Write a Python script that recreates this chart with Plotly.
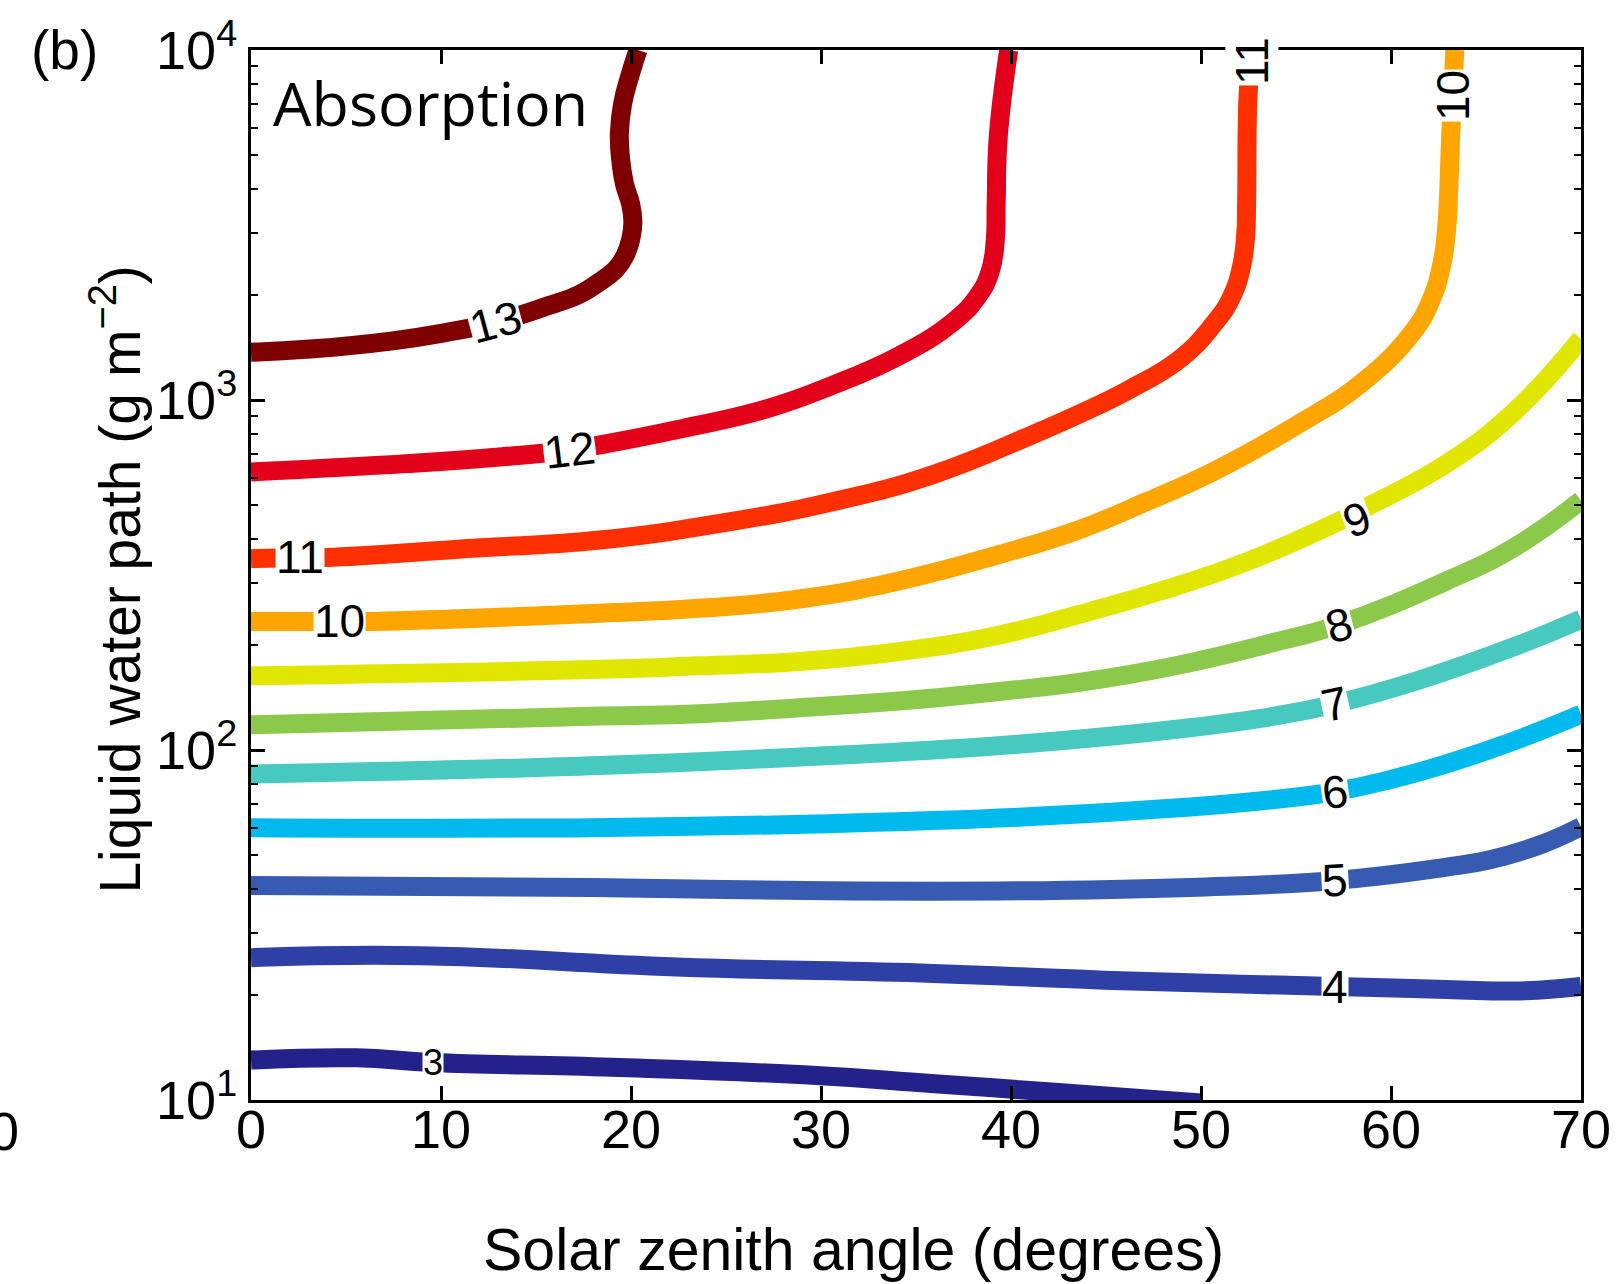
import math
import plotly.graph_objects as go

# ---- contour lines of absorption (%) : solar zenith angle vs liquid water path ----
levels = [13, 12, 11, 10, 9, 8, 7, 6, 5, 4, 3]

c13_x = [0, 3.1, 7.46, 10.24, 12.86, 15.63, 17.27, 18.25, 19.18, 19.67, 19.99, 20.10, 19.99, 19.66, 19.45, 19.39, 19.56, 19.94, 20.37]
c13_y = [1369, 1398, 1476, 1558, 1667, 1858, 2002, 2158, 2357, 2574, 2888, 3220, 3614, 4140, 4905, 5810, 7027, 8439, 10000]

c12_x = [0, 8.17, 12.91, 16.78, 18.36, 22.72, 27.13, 30.61, 34.16, 36.93, 38.24, 38.90, 39.17, 39.22, 39.33, 39.88]
c12_y = [623, 658, 686, 719, 744, 829, 943, 1102, 1342, 1667, 1975, 2325, 2850, 3663, 5655, 10000]

c11_x = [0, 2.56, 3.98, 11.66, 18.36, 25.33, 30.61, 35.84, 41.13, 43.58, 46.25, 48.86, 50.61, 51.59, 52.13, 52.35, 52.40, 52.46, 52.62]
c11_y = [352, 355, 355, 377, 398, 450, 512, 611, 796, 911, 1073, 1306, 1634, 1962, 2405, 2948, 3663, 7027, 10000]

c10_x = [0, 4.63, 6.43, 18.36, 23.59, 28.87, 34.10, 39.39, 43.58, 47.12, 50.61, 55.02, 58.51, 61.12, 62.05, 62.65, 62.92, 63.03, 63.14, 63.36]
c10_y = [233, 233, 233, 246, 254, 270, 304, 362, 426, 512, 623, 846, 1125, 1558, 1897, 2405, 3050, 3868, 5655, 10000]

c9_x = [0, 18.36, 23.59, 28.87, 34.10, 39.39, 43.58, 47.99, 52.40, 57.25, 58.51, 62.92, 66.41, 70]
c9_y = [163, 170, 174, 179, 191, 213, 244, 286, 345, 450, 488, 658, 918, 1496]

c8_x = [0, 18.36, 23.59, 28.87, 34.10, 39.39, 43.58, 48.86, 54.15, 57.25, 62.92, 66.41, 70]
c8_y = [118, 125, 127, 132, 138, 147, 156, 175, 205, 228, 304, 377, 516]

c7_x = [0, 17.92, 30.38, 40.37, 49.41, 54.15, 57.04, 61.12, 66.41, 70]
c7_y = [85.4, 90.1, 96.4, 103.9, 115.8, 125.7, 135.4, 156.1, 196.7, 236.3]

c6_x = [0, 17.92, 30.38, 40.37, 49.41, 53.22, 57.04, 60.03, 62.92, 66.30, 70]
c6_y = [60.0, 60.0, 61.6, 64.2, 68.7, 71.6, 76.0, 82.5, 91.3, 105.3, 126.5]

c5_x = [0, 17.92, 30.38, 40.37, 49.41, 57.04, 62.92, 65.21, 67.93, 70]
c5_y = [41.0, 40.5, 39.6, 39.6, 40.5, 42.4, 46.3, 48.6, 53.8, 60.4]

c4_x = [0, 8.93, 22.39, 35.90, 44.89, 57.04, 62.92, 66.84, 70]
c4_y = [25.5, 25.85, 24.0, 23.0, 22.0, 21.1, 20.7, 20.5, 21.1]

c3_x = [0, 5.56, 9.59, 19.01, 29.09, 35.79, 42.49, 50.0]
c3_y = [13.0, 13.2, 12.8, 12.4, 11.8, 11.15, 10.5, 9.8]

curve_x = [c13_x, c12_x, c11_x, c10_x, c9_x, c8_x, c7_x, c6_x, c5_x, c4_x, c3_x]
curve_y = [c13_y, c12_y, c11_y, c10_y, c9_y, c8_y, c7_y, c6_y, c5_y, c4_y, c3_y]

# jet-like colours for the 11 levels
colors = ["#7f0000", "#e2001a", "#ff3000", "#ffa500", "#e1e600", "#8cc94b",
          "#47c9c0", "#00baee", "#375bb0", "#2e40a5", "#22228a"]

# inline contour labels: text, x, y, rotation
label_text = ["13", "12", "11", "10", "9", "8", "7", "6", "5", "4", "3", "10", "11"]
label_x = [12.86, 16.78, 2.56, 4.66, 58.23, 57.25, 57.04, 57.04, 57.04, 57.04, 9.59, 63.30, 52.68]
label_y = [1667, 719, 355, 233, 456, 228, 135.4, 76.0, 42.4, 21.1, 12.8, 7419, 9300]
label_angle = [-15, -7, 0, 0, -20, -15, -12, -8, -3, 0, 0, -90, -90]

x_ticks = [0, 10, 20, 30, 40, 50, 60, 70]
y_ticks = [10, 100, 1000, 10000]
y_ticktext = ["10<sup>1</sup>", "10<sup>2</sup>", "10<sup>3</sup>", "10<sup>4</sup>"]
y_minor = [m * 10 ** d for d in range(1, 4) for m in range(2, 10)]

W, H = 1623, 1284
ML, MR, MT, MB = 251, 41, 47, 184
PW, PH = W - ML - MR, H - MT - MB


def px(xp):
    return (xp - ML) / PW


def py(yp):
    return (H - MB - yp) / PH


FONT = "Liberation Sans, Arial, Helvetica, sans-serif"

fig = go.Figure()
for lv, xs, ys, col in zip(levels, curve_x, curve_y, colors):
    fig.add_trace(go.Scatter(
        x=xs, y=ys, mode="lines", name=str(lv),
        line=dict(color=col, width=19, shape="spline", smoothing=1.3),
        hoverinfo="skip", showlegend=False,
    ))

for t, lx, ly, ang in zip(label_text, label_x, label_y, label_angle):
    small = (t == "3")
    fig.add_annotation(
        x=lx, y=math.log10(ly), xref="x", yref="y", text=t, showarrow=False,
        textangle=ang, font=dict(family=FONT, size=36 if small else 46, color="black"),
        bgcolor="white", borderpad=0,
    )

# panel text
fig.add_annotation(x=px(271), y=py(100), xref="paper", yref="paper", text="Absorption",
                   showarrow=False, xanchor="left", yanchor="middle",
                   font=dict(family="Open Sans, sans-serif", size=61, color="black"))
fig.add_annotation(x=px(64), y=py(47), xref="paper", yref="paper", text="(b)",
                   showarrow=False, xanchor="center", yanchor="middle",
                   font=dict(family=FONT, size=55, color="black"))
fig.add_annotation(x=px(21), y=py(1131), xref="paper", yref="paper", text="0",
                   showarrow=False, xanchor="right", yanchor="middle",
                   font=dict(family=FONT, size=54, color="black"))
# axis titles
fig.add_annotation(x=px(854), y=py(1250), xref="paper", yref="paper",
                   text="Solar zenith angle (degrees)", showarrow=False,
                   xanchor="center", yanchor="middle",
                   font=dict(family=FONT, size=59, color="black"))
fig.add_annotation(x=px(116), y=py(578), xref="paper", yref="paper",
                   text="Liquid water path (g m<sup>\u22122</sup>)", showarrow=False,
                   textangle=-90, xanchor="center", yanchor="middle",
                   font=dict(family=FONT, size=57, color="black"))

fig.update_xaxes(
    range=[0, 70], tickmode="array", tickvals=x_ticks,
    ticks="inside", ticklen=14, tickwidth=2.5, tickcolor="black",
    ticklabelstandoff=-20,
    showline=True, linewidth=3, linecolor="black", mirror="ticks",
    showgrid=False, zeroline=False,
    tickfont=dict(family=FONT, size=54, color="black"),
)
fig.update_yaxes(
    type="log", range=[1, 4], tickmode="array", tickvals=y_ticks, ticktext=y_ticktext,
    ticks="inside", ticklen=14, tickwidth=2.5, tickcolor="black",
    minor=dict(tickmode="array", tickvals=y_minor, ticks="inside", ticklen=7,
               tickwidth=2, tickcolor="black", showgrid=False),
    showline=True, linewidth=3, linecolor="black", mirror="ticks",
    showgrid=False, zeroline=False,
    tickfont=dict(family=FONT, size=54, color="black"),
)

fig.update_layout(
    width=W, height=H, autosize=False,
    margin=dict(l=ML, r=MR, t=MT, b=MB, pad=0),
    paper_bgcolor="white", plot_bgcolor="white",
    showlegend=False,
)

fig.write_html("out.html", include_plotlyjs=True, config={"displayModeBar": False})
